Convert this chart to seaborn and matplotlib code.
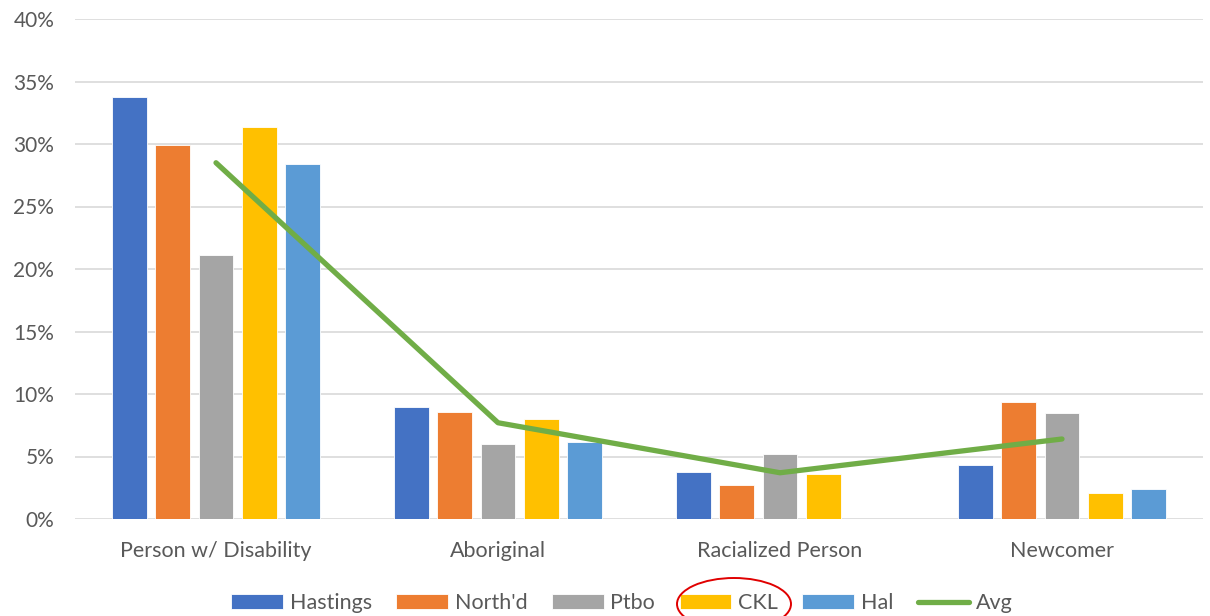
import matplotlib
matplotlib.use("Agg")
import matplotlib.pyplot as plt
from matplotlib.patches import Ellipse
import seaborn as sns
import pandas as pd
import numpy as np

categories = ["Person w/ Disability", "Aboriginal", "Racialized Person", "Newcomer"]
series_names = ["Hastings", "North'd", "Ptbo", "CKL", "Hal"]
hastings = [33.8, 9.0, 3.8, 4.3]
northd = [29.9, 8.6, 2.7, 9.4]
ptbo = [21.1, 6.0, 5.2, 8.5]
ckl = [31.4, 8.0, 3.6, 2.1]
hal = [28.4, 6.2, 0.0, 2.4]
avg = [28.5, 7.7, 3.7, 6.4]
yticks = [0, 5, 10, 15, 20, 25, 30, 35, 40]
colors = ["#4472C4", "#ED7D31", "#A5A5A5", "#FFC000", "#5B9BD5"]
avg_color = "#70AD47"

rows = []
for name, vals in zip(series_names, [hastings, northd, ptbo, ckl, hal]):
    for c, v in zip(categories, vals):
        rows.append({"category": c, "series": name, "value": v})
df = pd.DataFrame(rows)

sns.set_theme(style="white")
plt.rcParams["font.family"] = ["Lato", "DejaVu Sans"]

fig = plt.figure(figsize=(12.1, 6.16), dpi=100)
ax = fig.add_axes([75/1210, 1-519/616, (1203-75)/1210, (519-19)/616])

sns.barplot(data=df, x="category", y="value", hue="series", order=categories,
            hue_order=series_names, palette=colors, saturation=1, width=0.77, gap=0.2,
            edgecolor="white", linewidth=0.6, ax=ax, legend=True, zorder=2)

avg_df = pd.DataFrame({"x": np.arange(len(categories)), "Avg": avg})
sns.lineplot(data=avg_df, x="x", y="Avg", color=avg_color, linewidth=3.8,
             ax=ax, label="Avg", zorder=3, solid_capstyle="round")

ax.set_xlim(-0.5, 3.5)
ax.set_ylim(0, 40)
ax.set_yticks(yticks)
ax.set_yticklabels([f"{t}%" for t in yticks])
ax.set_xticks(range(len(categories)))
ax.set_xticklabels(categories)
ax.grid(axis="y", color="#D9D9D9", linewidth=1.2, zorder=0)
ax.set_axisbelow(True)
for s in ax.spines.values():
    s.set_visible(False)
ax.set_xlabel("")
ax.set_ylabel("")
ax.tick_params(axis="y", length=0, pad=15, labelsize=15, labelcolor="#595959")
ax.tick_params(axis="x", length=0, pad=16, labelsize=15.5, labelcolor="#595959")

handles, labels = ax.get_legend_handles_labels()
ax.get_legend().remove()
leg = fig.legend(handles, labels, loc="center", bbox_to_anchor=(622/1210, 1-603/616),
                 ncol=6, frameon=False, fontsize=15.5, labelcolor="#595959",
                 handlelength=2.4, handleheight=0.65, handletextpad=0.3,
                 columnspacing=1.15)
leg.set_zorder(1)

ell = Ellipse((734/1210, 1-604/616), width=114/1210, height=52/616,
              transform=fig.transFigure, fill=False, edgecolor="#E00000",
              linewidth=1.4, clip_on=False, zorder=10)
fig.add_artist(ell)

fig.savefig("out.png", dpi=100)
